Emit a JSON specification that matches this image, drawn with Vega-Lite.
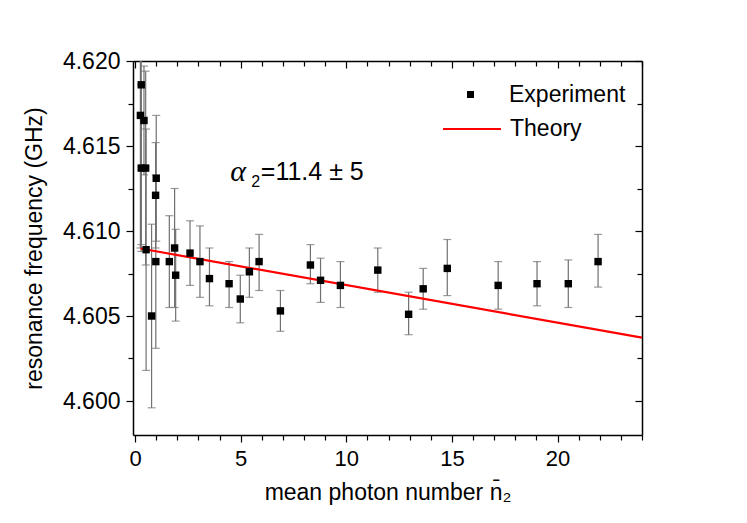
{
  "$schema": "https://vega.github.io/schema/vega-lite/v6.json",
  "description": "Resonance frequency vs mean photon number, experiment with error bars and theory line.",
  "width": 509,
  "height": 374,
  "autosize": "none",
  "padding": {"left": 133, "top": 61, "right": 105, "bottom": 88},
  "config": {
    "font": "Liberation Sans",
    "view": {"stroke": null},
    "axis": {
      "domainColor": "black",
      "domainWidth": 1.5,
      "tickColor": "black",
      "tickWidth": 1.2,
      "labelColor": "black",
      "titleColor": "black",
      "labelFont": "Liberation Sans",
      "titleFont": "Liberation Sans",
      "labelFontSize": 22,
      "titleFontSize": 23,
      "titleFontWeight": "normal",
      "grid": false
    },
    "legend": {"labelFont": "Liberation Sans", "labelFontSize": 23, "labelColor": "black"}
  },
  "datasets": {
    "experiment": [
      {"n": 0.25, "f": 4.6168, "lo": 4.6090, "hi": 4.6246},
      {"n": 0.29, "f": 4.6186, "lo": 4.6092, "hi": 4.6280},
      {"n": 0.29, "f": 4.6137, "lo": 4.6088, "hi": 4.6186},
      {"n": 0.42, "f": 4.6165, "lo": 4.6133, "hi": 4.6197},
      {"n": 0.50, "f": 4.6137, "lo": 4.6080, "hi": 4.6194},
      {"n": 0.52, "f": 4.6089, "lo": 4.6018, "hi": 4.6160},
      {"n": 0.78, "f": 4.6050, "lo": 4.5996, "hi": 4.6104},
      {"n": 0.97, "f": 4.6121, "lo": 4.6090, "hi": 4.6152},
      {"n": 1.00, "f": 4.6131, "lo": 4.6094, "hi": 4.6168},
      {"n": 0.98, "f": 4.6082, "lo": 4.6031, "hi": 4.6133},
      {"n": 1.62, "f": 4.6082, "lo": 4.6055, "hi": 4.6109},
      {"n": 1.87, "f": 4.6090, "lo": 4.6055, "hi": 4.6125},
      {"n": 1.92, "f": 4.6074, "lo": 4.6047, "hi": 4.6101},
      {"n": 2.60, "f": 4.6087, "lo": 4.6068, "hi": 4.6106},
      {"n": 3.07, "f": 4.6082, "lo": 4.6061, "hi": 4.6103},
      {"n": 3.52, "f": 4.6072, "lo": 4.6056, "hi": 4.6090},
      {"n": 4.45, "f": 4.6069, "lo": 4.6055, "hi": 4.6082},
      {"n": 4.98, "f": 4.6060, "lo": 4.6046, "hi": 4.6074},
      {"n": 5.41, "f": 4.6076, "lo": 4.6061, "hi": 4.6090},
      {"n": 5.87, "f": 4.6082, "lo": 4.6065, "hi": 4.6098},
      {"n": 6.88, "f": 4.6053, "lo": 4.6041, "hi": 4.6065},
      {"n": 8.30, "f": 4.6080, "lo": 4.6069, "hi": 4.6092},
      {"n": 8.78, "f": 4.6071, "lo": 4.6058, "hi": 4.6084},
      {"n": 9.72, "f": 4.6068, "lo": 4.6055, "hi": 4.6082},
      {"n": 11.49, "f": 4.6077, "lo": 4.6064, "hi": 4.6090},
      {"n": 12.95, "f": 4.6051, "lo": 4.6039, "hi": 4.6064},
      {"n": 13.64, "f": 4.6066, "lo": 4.6054, "hi": 4.6078},
      {"n": 14.78, "f": 4.6078, "lo": 4.6062, "hi": 4.6095},
      {"n": 17.19, "f": 4.6068, "lo": 4.6054, "hi": 4.6082},
      {"n": 19.03, "f": 4.6069, "lo": 4.6056, "hi": 4.6082},
      {"n": 20.51, "f": 4.6069, "lo": 4.6055, "hi": 4.6083},
      {"n": 21.92, "f": 4.6082, "lo": 4.6067, "hi": 4.6098}
    ],
    "theory": [
      {"n": 0.25, "f": 4.60897},
      {"n": 24.0, "f": 4.60373}
    ],
    "annotation": [
      {"symbol": "α", "sub": "2", "rest": "=11.4 ± 5"}
    ]
  },
  "resolve": {"axis": {"x": "independent", "y": "independent"}},
  "layer": [
    {
      "data": {"name": "experiment"},
      "mark": {"type": "rule", "color": "#707070", "strokeWidth": 1.2, "clip": true},
      "encoding": {
        "x": {
          "field": "n", "type": "quantitative",
          "scale": {"domain": [-0.1, 24], "nice": false, "zero": false},
          "axis": {
            "title": "mean photon number n̄₂",
            "values": [0,1,2,3,4,5,6,7,8,9,10,11,12,13,14,15,16,17,18,19,20,21,22,23,24],
            "labelExpr": "datum.value % 5 === 0 ? format(datum.value, 'd') : ''",
            "tickSize": {"condition": {"test": "datum.value % 5 === 0", "value": 7}, "value": 5},
            "labelPadding": 6,
            "labelFlush": false,
            "titlePadding": 12
          }
        },
        "y": {
          "field": "lo", "type": "quantitative",
          "scale": {"domain": [4.598, 4.62], "nice": false, "zero": false},
          "axis": {
            "title": "resonance frequency (GHz)",
            "values": [4.6, 4.6025, 4.605, 4.6075, 4.61, 4.6125, 4.615, 4.6175, 4.62],
            "labelExpr": "abs(datum.value * 200 - round(datum.value * 200)) < 0.001 ? format(datum.value, '.3f') : ''",
            "labelFontSize": 23,
            "tickSize": {"condition": {"test": "abs(datum.value * 200 - round(datum.value * 200)) < 0.001", "value": 7}, "value": 5},
            "labelPadding": 6,
            "labelFlush": false,
            "titlePadding": 16
          }
        },
        "y2": {"field": "hi"}
      }
    },
    {
      "data": {"name": "experiment"},
      "transform": [{"fold": ["lo", "hi"], "as": ["end", "val"]}],
      "mark": {"type": "tick", "color": "#707070", "thickness": 1.2, "size": 8, "orient": "horizontal", "clip": true},
      "encoding": {
        "x": {"field": "n", "type": "quantitative", "axis": null},
        "y": {"field": "val", "type": "quantitative", "axis": null}
      }
    },
    {
      "data": {"name": "theory"},
      "mark": {"type": "line", "strokeWidth": 2.2},
      "encoding": {
        "x": {"field": "n", "type": "quantitative", "axis": null},
        "y": {"field": "f", "type": "quantitative", "axis": null},
        "stroke": {
          "datum": "Theory",
          "scale": {"range": ["#ff0000"]},
          "legend": {
            "title": null,
            "orient": "none",
            "legendX": 309,
            "legendY": 38,
            "padding": 0,
            "symbolType": "stroke",
            "symbolSize": 3364,
            "symbolStrokeWidth": 2,
            "symbolStrokeColor": "#ff0000",
            "labelOffset": 8
          }
        }
      }
    },
    {
      "data": {"name": "experiment"},
      "mark": {"type": "point", "shape": "square", "filled": true, "color": "black", "size": 55, "opacity": 1},
      "encoding": {
        "x": {
          "field": "n", "type": "quantitative",
          "axis": {
            "orient": "top", "title": null, "labels": false,
            "values": [0,1,2,3,4,5,6,7,8,9,10,11,12,13,14,15,16,17,18,19,20,21,22,23,24],
            "tickSize": {"condition": {"test": "datum.value % 5 === 0", "value": -7}, "value": -5}
          }
        },
        "y": {
          "field": "f", "type": "quantitative",
          "axis": {
            "orient": "right", "title": null, "labels": false,
            "values": [4.6, 4.6025, 4.605, 4.6075, 4.61, 4.6125, 4.615, 4.6175, 4.62],
            "tickSize": {"condition": {"test": "abs(datum.value * 200 - round(datum.value * 200)) < 0.001", "value": -7}, "value": -5}
          }
        },
        "shape": {
          "datum": "Experiment",
          "scale": {"range": ["square"]},
          "legend": {
            "title": null,
            "orient": "none",
            "legendX": 326,
            "legendY": 22,
            "padding": 0,
            "symbolSize": 49,
            "symbolFillColor": "black",
            "symbolStrokeWidth": 0,
            "labelOffset": 27
          }
        }
      }
    },
    {
      "data": {"name": "annotation"},
      "mark": {"type": "text", "align": "left", "baseline": "middle", "font": "Liberation Serif", "fontStyle": "italic", "fontSize": 30},
      "encoding": {
        "x": {"datum": 4.5, "type": "quantitative", "axis": null},
        "y": {"datum": 4.6135, "type": "quantitative", "axis": null},
        "text": {"field": "symbol"}
      }
    },
    {
      "data": {"name": "annotation"},
      "mark": {"type": "text", "align": "left", "baseline": "middle", "fontSize": 16},
      "encoding": {
        "x": {"datum": 5.5, "type": "quantitative", "axis": null},
        "y": {"datum": 4.6129, "type": "quantitative", "axis": null},
        "text": {"field": "sub"}
      }
    },
    {
      "data": {"name": "annotation"},
      "mark": {"type": "text", "align": "left", "baseline": "middle", "fontSize": 25},
      "encoding": {
        "x": {"datum": 5.95, "type": "quantitative", "axis": null},
        "y": {"datum": 4.6135, "type": "quantitative", "axis": null},
        "text": {"field": "rest"}
      }
    }
  ]
}
